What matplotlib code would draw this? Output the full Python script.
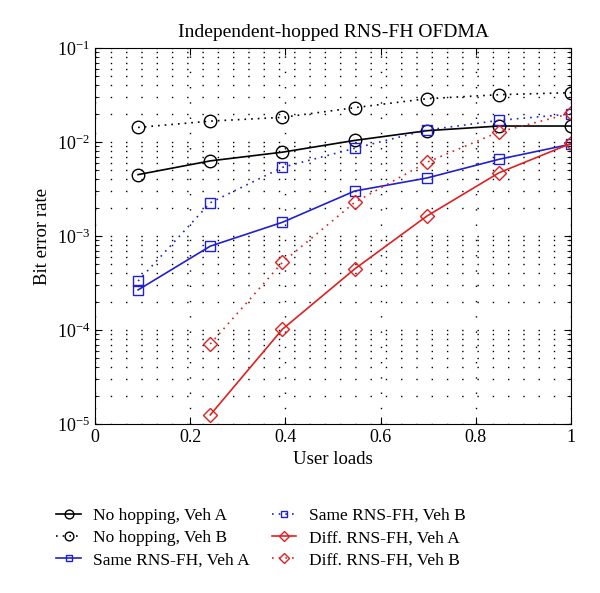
import numpy as np
import matplotlib.pyplot as plt

plt.rcParams['font.family'] = ['Liberation Serif', 'DejaVu Serif']
plt.rcParams['mathtext.fontset'] = 'stix'

# user loads (x) for each curve
x_all = [0.0909, 0.2424, 0.3939, 0.5455, 0.6970, 0.8485, 1.0]
x_diff = [0.2424, 0.3939, 0.5455, 0.6970, 0.8485, 1.0]

# bit error rates
nohop_a = [4.5e-3, 6.3e-3, 7.8e-3, 1.04e-2, 1.32e-2, 1.48e-2, 1.48e-2]
nohop_b = [1.43e-2, 1.67e-2, 1.83e-2, 2.32e-2, 2.89e-2, 3.19e-2, 3.35e-2]
same_a = [2.67e-4, 7.8e-4, 1.40e-3, 3.01e-3, 4.14e-3, 6.55e-3, 9.5e-3]
same_b = [3.32e-4, 2.26e-3, 5.38e-3, 8.57e-3, 1.34e-2, 1.70e-2, 1.99e-2]
diff_a = [1.25e-5, 1.02e-4, 4.46e-4, 1.63e-3, 4.71e-3, 9.68e-3]
diff_b = [7.1e-5, 5.25e-4, 2.28e-3, 6.08e-3, 1.28e-2, 2.02e-2]

labels = ["No hopping, Veh A", "No hopping, Veh B", "Same RNS-FH, Veh A",
          "Same RNS-FH, Veh B", "Diff. RNS-FH, Veh A", "Diff. RNS-FH, Veh B"]

fig = plt.figure(figsize=(6, 5.93), dpi=100)
ax = fig.add_axes([0.158, 0.285, 0.794, 0.634])

blue = '#2020d0'
red = '#e02020'
lw = 1.2
dot = (0, (1, 3))
ax.plot(x_all, nohop_a, '-', color='k', marker='o', ms=9, mfc='none', lw=lw, label=labels[0])
ax.plot(x_all, nohop_b, ls=dot, color='k', marker='o', ms=9, mfc='none', lw=lw, label=labels[1])
ax.plot(x_all, same_a, '-', color=blue, marker='s', ms=7, mfc='none', lw=lw, label=labels[2])
ax.plot(x_all, same_b, ls=dot, color=blue, marker='s', ms=7, mfc='none', lw=lw, label=labels[3])
ax.plot(x_diff, diff_a, '-', color=red, marker='D', ms=7.5, mfc='none', lw=lw, label=labels[4])
ax.plot(x_diff, diff_b, ls=dot, color=red, marker='D', ms=7.5, mfc='none', lw=lw, label=labels[5])

ax.set_yscale('log')
ax.set_xlim(0, 1)
ax.set_ylim(1e-5, 1e-1)
ax.set_xticks([0, 0.2, 0.4, 0.6, 0.8, 1])
ax.set_xticklabels(['0', '0.2', '0.4', '0.6', '0.8', '1'])
grid_ls = (0, (1, 10))
ax.grid(True, which='major', axis='x', color='k', ls=grid_ls, lw=1.0)
ax.grid(True, which='both', axis='y', color='k', ls=grid_ls, lw=1.0)
ax.tick_params(which='both', direction='in', top=True, right=True, labelsize=13)
ax.tick_params(which='major', length=5)
ax.tick_params(which='minor', length=3)

ax.set_title('Independent-hopped RNS-FH OFDMA', fontsize=14, pad=8)
ax.set_xlabel('User loads', fontsize=13.5)
ax.set_ylabel('Bit error rate', fontsize=13.5)

fig.legend(loc='upper left', bbox_to_anchor=(0.068, 0.17), ncol=2, frameon=False,
           fontsize=12.5, handlelength=1.4, labelspacing=0.35, columnspacing=1.3,
           handletextpad=0.7, markerscale=0.7)

fig.savefig('out.png', dpi=100)
